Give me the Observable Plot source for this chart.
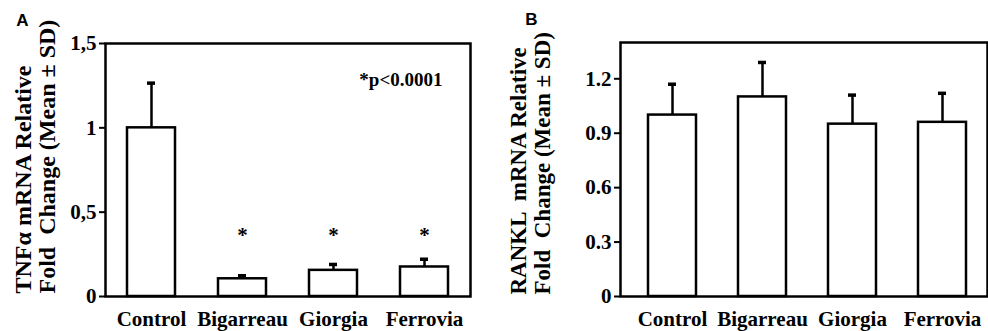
<!DOCTYPE html>
<html>
<head>
<meta charset="utf-8">
<script src="https://cdn.jsdelivr.net/npm/d3@7"></script>
<script src="https://cdn.jsdelivr.net/npm/@observablehq/plot@0.6"></script>
<style>
  html, body { margin: 0; padding: 0; background: white; }
  #wrap { display: flex; width: 988px; height: 331px; }
</style>
</head>
<body>
<div id="wrap"></div>
<script>
const categories = ["Control", "Bigarreau", "Giorgia", "Ferrovia"];

// Panel A: TNFα
const tnfMean = [1.0, 0.105, 0.155, 0.175];
const tnfSDTop = [1.265, 0.123, 0.19, 0.221];
const tnfTicks = [0, 0.5, 1, 1.5];
const tnfTickLabels = ["0", "0,5", "1", "1,5"];
const tnfSignif = ["Bigarreau", "Giorgia", "Ferrovia"];
const tnfTitle = ["TNFα mRNA Relative", "Fold  Change (Mean ± SD)"];

// Panel B: RANKL
const rankMean = [1.0, 1.1, 0.95, 0.96];
const rankSDTop = [1.17, 1.29, 1.11, 1.12];
const rankTicks = [0, 0.3, 0.6, 0.9, 1.2];
const rankTickLabels = ["0", "0.3", "0.6", "0.9", "1.2"];
const rankTitle = ["RANKL  mRNA Relative", "Fold  Change (Mean ± SD)"];

const serif = "'Liberation Serif', 'Times New Roman', Times, serif";
const sans = "'Liberation Sans', Arial, Helvetica, sans-serif";

function panel(opts) {
  const data = categories.map((c, i) => ({cat: c, mean: opts.mean[i], hi: opts.hi[i]}));
  const marks = [
    Plot.barY(data, {x: "cat", y: "mean", fill: "white", stroke: "black", strokeWidth: 2.5}),
    Plot.ruleX(data, {x: "cat", y1: "mean", y2: "hi", stroke: "black", strokeWidth: 2.5}),
    Plot.tickY(data, {x: "cat", y: "hi", inset: opts.capInset, stroke: "black", strokeWidth: 3.5}),
    Plot.axisY({ticks: opts.ticks, tickFormat: d => opts.tickLabels[opts.ticks.indexOf(d)], tickSize: 6, tickPadding: 3,
      fontSize: 21, fontWeight: "bold", fontFamily: serif, label: null, strokeWidth: 2}),
    Plot.axisX({tickSize: 0, tickPadding: 15, fontSize: 21, fontWeight: "bold", fontFamily: serif, label: null}),
    Plot.frame({stroke: "black", strokeWidth: 2.5}),
    Plot.text([opts.title[0]], {frameAnchor: "left", rotate: -90, dx: opts.t1dx, dy: opts.tdy,
      fontSize: opts.titleSize, fontWeight: "bold", fontFamily: serif, lineAnchor: "middle", textAnchor: "start"}),
    Plot.text([opts.title[1]], {frameAnchor: "left", rotate: -90, dx: opts.t2dx, dy: opts.tdy,
      fontSize: opts.titleSize, fontWeight: "bold", fontFamily: serif, lineAnchor: "middle", textAnchor: "start"}),
    Plot.text([opts.letter], {frameAnchor: "top-left", dx: opts.ldx, dy: -18, lineAnchor: "bottom",
      fontSize: 17, fontWeight: "bold", fontFamily: sans, textAnchor: "middle"})
  ];
  if (opts.extra) marks.push(...opts.extra);
  return Plot.plot({
    width: 494,
    height: 331,
    marginLeft: opts.marginLeft,
    marginRight: opts.marginRight,
    marginTop: opts.marginTop,
    marginBottom: opts.marginBottom,
    style: {fontFamily: serif, background: "white", color: "black", overflow: "visible"},
    x: {domain: categories, paddingInner: 0.47, paddingOuter: opts.paddingOuter, align: opts.align},
    y: {domain: opts.domain},
    marks
  });
}

const plotA = panel({
  mean: tnfMean, hi: tnfSDTop, ticks: tnfTicks, tickLabels: tnfTickLabels, title: tnfTitle,
  letter: "A", ldx: -83, domain: [0, 1.5], capInset: 20, titleSize: 24,
  marginLeft: 105, marginRight: 24, marginTop: 43, marginBottom: 35,
  paddingOuter: 0.24, align: 0.5,
  t1dx: -82.5, t2dx: -58, tdy: 123.5,
  extra: [
    Plot.text(tnfSignif, {x: d => d, y: 0.37, text: d => "*", fontSize: 21, fontWeight: "bold", fontFamily: serif, dy: 1}),
    Plot.text(["*p<0.0001"], {frameAnchor: "top-right", dx: -28, dy: 29, textAnchor: "end",
      fontSize: 19, fontWeight: "bold", fontFamily: serif})
  ]
});

const plotB = panel({
  mean: rankMean, hi: rankSDTop, ticks: rankTicks, tickLabels: rankTickLabels, title: rankTitle,
  letter: "B", ldx: -89, domain: [0, 1.4], capInset: 20, titleSize: 23,
  marginLeft: 126, marginRight: 1, marginTop: 42, marginBottom: 35,
  paddingOuter: 0.253, align: 0.56,
  t1dx: -102, t2dx: -78, tdy: 125
});

document.getElementById("wrap").append(plotA, plotB);
</script>
</body>
</html>
